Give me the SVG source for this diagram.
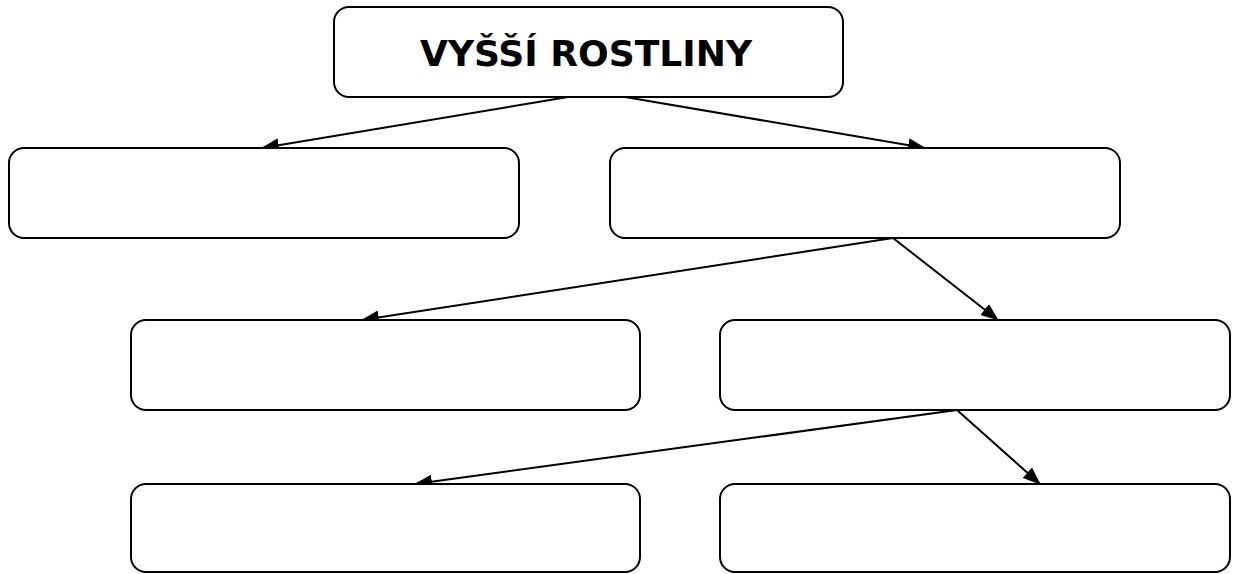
<svg xmlns="http://www.w3.org/2000/svg" width="1234" height="574" viewBox="0 0 1234 574">
<style>
.box{fill:#fff;stroke:#000;stroke-width:2}
.c{stroke:#000;stroke-width:2;fill:none;marker-end:url(#ah)}
.t{font-family:"DejaVu Sans",sans-serif;font-weight:bold;font-size:35px;fill:#000}
</style>
<defs>
<marker id="ah" viewBox="0 0 18 14" refX="17" refY="7" markerWidth="18" markerHeight="14" markerUnits="userSpaceOnUse" orient="auto">
<path d="M0,0 L18,7 L0,14 Z" fill="#000"/>
</marker>
</defs>
<rect width="1234" height="574" fill="#fff"/>
<g id="connectors">
<line class="c" x1="568" y1="97" x2="262" y2="148"/>
<line class="c" x1="625" y1="97" x2="925" y2="148"/>
<line class="c" x1="893" y1="238" x2="362" y2="320"/>
<line class="c" x1="893" y1="238" x2="998" y2="320"/>
<line class="c" x1="957" y1="410" x2="415" y2="484"/>
<line class="c" x1="957" y1="410" x2="1040" y2="484"/>
</g>
<g id="root"><rect class="box" x="334" y="7" width="509" height="90" rx="15"/>
<text class="t" x="586" y="66" text-anchor="middle" textLength="332" lengthAdjust="spacingAndGlyphs">VYŠŠÍ ROSTLINY</text></g>
<g id="n1"><rect class="box" x="9" y="148" width="510" height="90" rx="15"/></g>
<g id="n2"><rect class="box" x="610" y="148" width="510" height="90" rx="15"/></g>
<g id="n3"><rect class="box" x="131" y="320" width="509" height="90" rx="15"/></g>
<g id="n4"><rect class="box" x="720" y="320" width="510" height="90" rx="15"/></g>
<g id="n5"><rect class="box" x="131" y="484" width="509" height="88" rx="15"/></g>
<g id="n6"><rect class="box" x="720" y="484" width="510" height="88" rx="15"/></g>
</svg>
